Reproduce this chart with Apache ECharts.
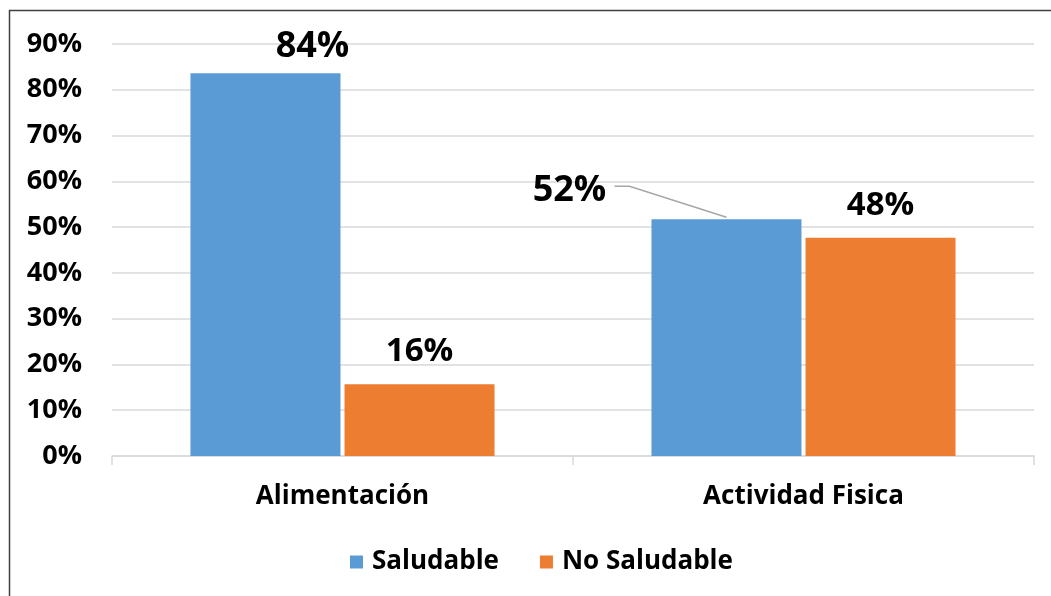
<!DOCTYPE html>
<html>
<head>
<meta charset="utf-8">
<script src="https://cdn.jsdelivr.net/npm/echarts@6/dist/echarts.min.js"></script>
<style>
  html, body { margin: 0; padding: 0; background: #fff; }
  #main { width: 1051px; height: 596px; }
</style>
</head>
<body>
<div id="main"></div>
<script>
var categories = ['Alimentación', 'Actividad Fisica'];
var saludable = [83.6, 51.7];
var noSaludable = [15.7, 47.7];
var yTicks = [0, 10, 20, 30, 40, 50, 60, 70, 80, 90];

var myChart = echarts.init(document.getElementById('main'));

var font = '"Open Sans", "Noto Sans", sans-serif';

function pct(p) { return Math.round(p.value) + '%'; }

option = {
    animation: false,
    textStyle: { fontFamily: font },
    graphic: [{
        type: 'rect',
        shape: { x: 9.5, y: 10.5, width: 1200, height: 800 },
        style: { fill: 'none', stroke: '#404040', lineWidth: 1.5 },
        silent: true
    }],
    legend: {
        data: ['Saludable', 'No Saludable'],
        left: 345,
        top: 544,
        icon: 'rect',
        itemWidth: 13,
        itemHeight: 13,
        itemGap: 41,
        textStyle: { fontSize: 26, fontWeight: 'bold', color: '#000', fontFamily: font, padding: [0, 0, 0, 4] }
    },
    grid: {
        left: 112,
        right: 17,
        top: 44,
        bottom: 140
    },
    xAxis: {
        type: 'category',
        data: categories,
        axisLine: { lineStyle: { color: '#d9d9d9', width: 1.5 } },
        axisTick: { show: true, length: 9, lineStyle: { color: '#d9d9d9', width: 1.5 } },
        axisLabel: { fontSize: 26, fontWeight: 'bold', color: '#000', margin: 28, fontFamily: font }
    },
    yAxis: {
        type: 'value',
        min: 0,
        max: 90,
        interval: 10,
        axisLine: { show: false },
        axisTick: { show: false },
        splitLine: { lineStyle: { color: '#d9d9d9', width: 1.5 } },
        axisLabel: {
            fontSize: 27, fontWeight: 'bold', color: '#000', margin: 30, fontFamily: font,
            formatter: function (v) { return yTicks.indexOf(v) >= 0 ? v + '%' : ''; }
        }
    },
    series: [{
        name: 'Saludable',
        type: 'bar',
        barWidth: 150,
        barGap: '2.7%',
        itemStyle: { color: '#5B9BD5' },
        label: {
            show: true,
            position: 'top',
            distance: 9,
            fontSize: 36,
            fontWeight: 'bold',
            color: '#000',
            fontFamily: font,
            formatter: pct
        },
        data: [
            { value: saludable[0], label: { offset: [47, 0] } },
            { value: saludable[1], label: { offset: [-157, -2] } }
        ]
    }, {
        name: 'No Saludable',
        type: 'bar',
        barWidth: 150,
        itemStyle: { color: '#ED7D31' },
        label: {
            show: true,
            position: 'top',
            distance: 16,
            fontSize: 33,
            fontWeight: 'bold',
            color: '#000',
            fontFamily: font,
            formatter: pct
        },
        data: noSaludable
    }]
};

myChart.setOption(option);

// leader line from the 52% label to the top of its bar
var bar = myChart.getModel().getSeriesByIndex(0).getData().getItemLayout(1);
var barTop = Math.min(bar.y, bar.y + bar.height);
var cx = bar.x + bar.width / 2;
myChart.setOption({
    graphic: [option.graphic[0], {
        type: 'polyline',
        silent: true,
        shape: { points: [[bar.x - 37, barTop - 33], [bar.x - 22, barTop - 33], [cx, barTop - 2]] },
        style: { fill: 'none', stroke: '#a6a6a6', lineWidth: 1.5 }
    }]
});
</script>
</body>
</html>
